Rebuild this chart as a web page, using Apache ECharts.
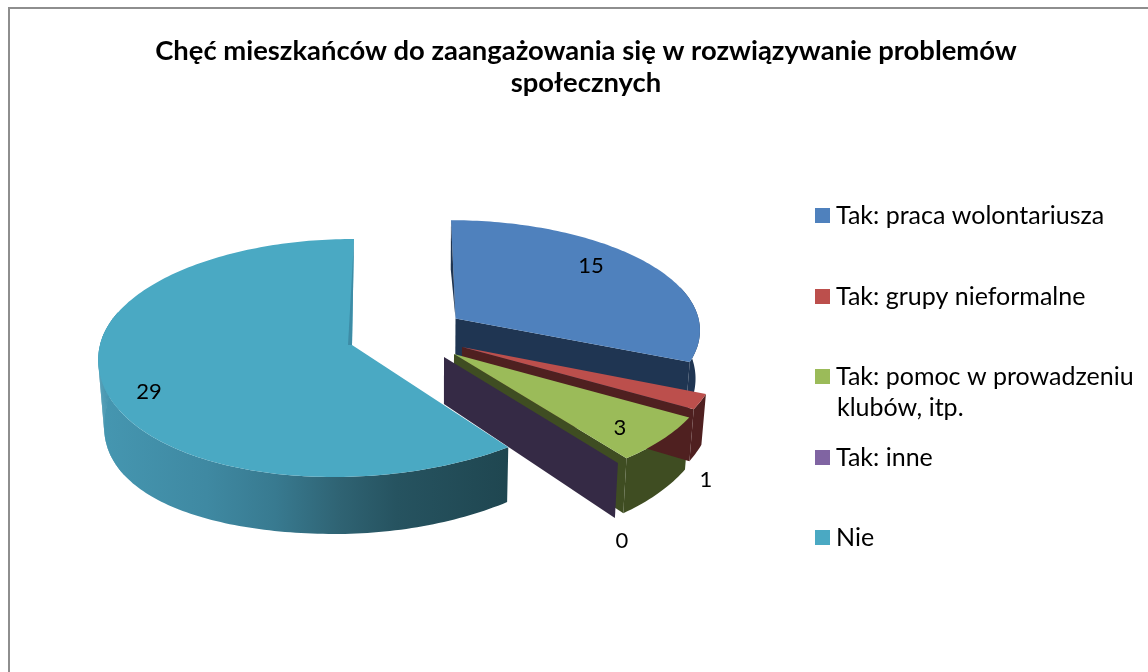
<!DOCTYPE html>
<html><head><meta charset="utf-8">
<style>html,body{margin:0;padding:0;background:#fff}#c{width:1148px;height:672px}</style>
<script src="https://cdn.jsdelivr.net/npm/echarts@6/dist/echarts.min.js"></script></head>
<body><div id="c"></div>
<script>
const titleLines = ['Chęć mieszkańców do zaangażowania się w rozwiązywanie problemów', 'społecznych'];
const categories = ['Tak: praca wolontariusza', 'Tak: grupy nieformalne', 'Tak: pomoc w prowadzeniu', 'Tak: inne', 'Nie'];
const legendContinuation = 'klubów, itp.';
const values = [15, 1, 3, 0, 29];
const topColors = ['#4f81bd', '#bc4f4c', '#9bbb59', '#8064a2', '#4aa9c3'];
const wallColors = ['#1f3552', '#4f2020', '#3f4d22', '#352a45', '#1f4650'];
const legendTops = [203, 284, 364, 445, 525];

const shapes = [
  {cx:455.5, cy:318.5, rx:243, ry:109, skewBack:-4.5, skewFront:0, label:[135.5,-52.5], sliver:{t:.5, dx:-2.5, color:'#1f3552'}},
  {cx:462, cy:347, rx:253, ry:117.5, skewBack:0, skewFront:0, label:[244,133]},
  {cx:454, cy:354, rx:256, ry:120, skewBack:0, skewFront:3, label:[166,74]},
  {cx:444, cy:357, rx:261, ry:122, skewBack:0, skewFront:0, label:[178,184]},
  {cx:352, cy:345, rx:252, ry:117.6, skewBack:2, skewFront:-18.5, label:[-203,47], sliver:{t:1, dx:-4, color:'#3d8ca6'}}
];
const persp = .109, sinkX = 440, sinkRate = .017, depthBase = 47, depthFront = 10, depthLeft = 18, hiddenBelow = -.3;
const total = values.reduce((a, b) => a + b, 0);

function rimPoint(s, a) {
  const v = -Math.cos(a), sn = Math.sin(a), f = 1 / (1 - persp * v);
  const skew = v > 0 ? s.skewFront : s.skewBack;
  return [s.cx + s.rx * sn * f + skew * v * v, s.cy + s.ry * v * f, v, sn];
}
function drop(p) {
  const sn = p[3] || 0;
  return [p[0] - (p[0] - sinkX) * sinkRate, p[1] + depthBase + depthFront * p[2] + (sn < 0 ? depthLeft * sn * sn : 0), p[2], sn];
}
function arc(s, a0, a1) {
  const n = Math.max(2, Math.ceil((a1 - a0) / 0.02)), out = [];
  for (let i = 0; i <= n; i++) out.push(rimPoint(s, a0 + (a1 - a0) * i / n));
  return out;
}
function xy(p) { return [p[0], p[1]]; }
function poly(points, fill, z2) {
  return {type:'polygon', shape:{points:points.map(xy)}, style:{fill:fill}, z2:z2 || 0, silent:true};
}
function wallFill(i) {
  if (i !== 4) return wallColors[i];
  return new echarts.graphic.LinearGradient(105, 0, 510, 0, [
    {offset:0, color:'#4596b0'}, {offset:.25, color:'#3f89a2'}, {offset:.42, color:'#387a90'},
    {offset:.58, color:'#2f6373'}, {offset:.72, color:'#265360'}, {offset:1, color:wallColors[4]}], true);
}
function renderSlice(i) {
  const before = values.slice(0, i).reduce((a, b) => a + b, 0);
  const a0 = before / total * 2 * Math.PI, a1 = (before + values[i]) / total * 2 * Math.PI;
  const s = shapes[i], apex = [s.cx, s.cy, 0, 0], rim = arc(s, a0, a1);
  const kids = [];
  const end = rim[rim.length - 1];
  if (values[i] > 0) {
    const fill = wallFill(i);
    const seen = rim.filter(p => p[2] >= hiddenBelow);
    // Silhouette patch: where the rim turns back, the wall's outline bridges top rim and bottom rim.
    for (let k = 0; k + 1 < seen.length; k++) {
      if (seen[k][3] < -.85) kids.push(poly([seen[k], seen[k + 1], drop(seen[k + 1]), drop(seen[k])], fill, 0));
    }
    kids.push(poly(seen.concat(seen.map(drop).reverse()), fill, 1));
  }
  if (Math.sin(a1) > 0.01) kids.push(poly([apex, end, drop(end), drop(apex)], wallColors[i], 2));
  if (values[i] > 0) kids.push(poly([apex].concat(rim), topColors[i], 3));
  if (s.sliver) {
    const top = rimPoint(s, 0);
    const q = [top[0] + (apex[0] - top[0]) * s.sliver.t + s.sliver.dx, top[1] + (apex[1] - top[1]) * s.sliver.t];
    kids.push(poly([top, q, apex], s.sliver.color, 4));
  }
  kids.push({type:'text', x:s.cx + s.label[0], y:s.cy + s.label[1], z2:5, silent:true,
    style:{text:String(values[i]), fill:'#000', font:'22px Lato', align:'center', verticalAlign:'middle'}});
  return {type:'group', children:kids};
}

const chart = echarts.init(document.getElementById('c'), null, {renderer:'canvas'});
chart.setOption({
  animation:false,
  backgroundColor:'#fff',
  title:{text:titleLines.join('\n'), left:586, top:35, padding:0, textAlign:'center',
    textStyle:{fontFamily:'Lato', fontWeight:'bold', fontSize:27.4, lineHeight:32, color:'#000'}},
  legend:categories.map((c, i) => ({
    data:[c], left:815, top:legendTops[i], itemWidth:15, itemHeight:15, itemGap:0, selectedMode:false,
    icon:'rect', padding:0, textStyle:{fontFamily:'Lato', fontSize:25, color:'#000', padding:[0,0,0,1]}
  })),
  graphic:[
    {type:'rect', shape:{x:9, y:8, width:1300, height:800}, style:{fill:'none', stroke:'#8e8e8e', lineWidth:2}, silent:true, z:-1},
    {type:'text', x:837, y:408, silent:true, style:{text:legendContinuation, fill:'#000', font:'25px Lato', verticalAlign:'middle'}}
  ],
  series:categories.map((c, i) => ({
    type:'custom', name:c, coordinateSystem:'none', silent:true,
    itemStyle:{color:topColors[i]},
    data:[values[i]],
    renderItem:() => renderSlice(i)
  }))
});
</script></body></html>
